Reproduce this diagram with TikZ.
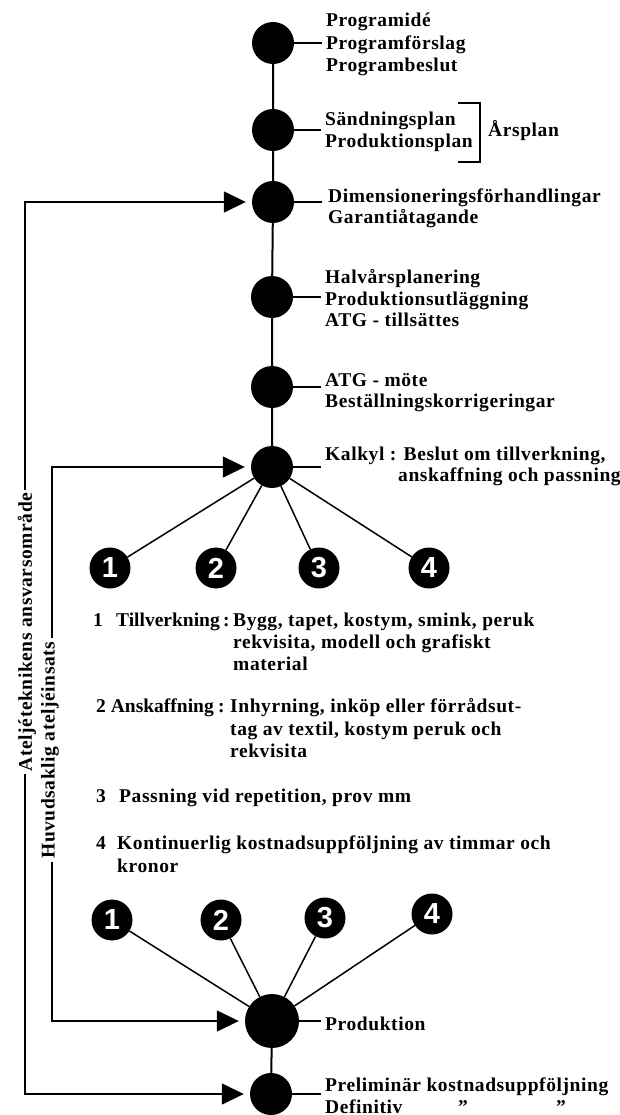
\documentclass[tikz,border=0pt]{standalone}
\usepackage{fontspec}
\setmainfont{Liberation Serif}[LetterSpace=3]
\newfontfamily\numfont{Liberation Sans}
\usetikzlibrary{arrows.meta,calc}
\begin{document}
\begin{tikzpicture}[x=1pt,y=-1pt,
  every node/.style={font=\bfseries\fontsize{19.5}{22}\selectfont, inner sep=0pt},
  dot/.style={circle, fill=black, minimum size=42pt, inner sep=0pt},
  num/.style={circle, fill=black, minimum size=41pt, inner sep=0pt, text=white,
              font=\numfont\bfseries\fontsize{29}{29}\selectfont},
  lbl/.style={anchor=base west},
  lble/.style={anchor=base east, font=\bfseries\fontsize{19.5}{22}\selectfont\addfontfeature{LetterSpace=0}},
  spine/.style={line width=2pt},
  ray/.style={line width=1.5pt},
  tick/.style={line width=1.5pt},
  sideline/.style={line width=1.5pt, line cap=rect},
  arr/.style={line width=1.5pt, -{Triangle[length=22pt,width=21pt]}, shorten >=6pt},
  side/.style={rotate=90, fill=white, inner xsep=3pt}
]
\useasboundingbox (0,0) rectangle (620,1115);

% spine circles
\node[dot] (c1) at (273,43) {};
\node[dot] (c2) at (273,130) {};
\node[dot] (c3) at (273,202) {};
\node[dot] (c4) at (272,297) {};
\node[dot] (c5) at (272,387) {};
\node[dot] (c6) at (272,467) {};
\draw[spine] (c1) -- (c2) -- (c3) -- (c4) -- (c5) -- (c6);

% texts along spine
\node[lbl] (t1a) at (326,27) {Programidé};
\node[lbl] (t1b) at (326,50) {Programförslag};
\node[lbl] (t1c) at (326,72) {Programbeslut};
\draw[tick] (c1.east) -- ($(c1.east -| t1b.west)+(-4,0)$);

\node[lbl] (t2a) at (325,126) {Sändningsplan};
\node[lbl] (t2b) at (325,148) {Produktionsplan};
\draw[tick] (c2.east) -- ($(c2.east -| t2a.west)+(-4,0)$);
\draw[tick] (458,103) -- (480,103) -- (480,162) -- (458,162);
\node[lbl] (ars) at (488,137) {Årsplan};

\node[lbl] (t3a) at (328,203) {Dimensioneringsförhandlingar};
\node[lbl] (t3b) at (328,224) {Garantiåtagande};
\draw[tick] (c3.east) -- ($(c3.east -| t3a.west)+(-6,0)$);

\node[lbl] (t4a) at (325,283) {Halvårsplanering};
\node[lbl] (t4b) at (325,305) {Produktionsutläggning};
\node[lbl] (t4c) at (325,326) {ATG - tillsättes};
\draw[tick] (c4.east) -- ($(c4.east -| t4b.west)+(-4,0)$);

\node[lbl] (t5a) at (325,386) {ATG - möte};
\node[lbl] (t5b) at (325,407) {Beställningskorrigeringar};
\draw[tick] (c5.east) -- ($(c5.east -| t5a.west)+(-4,0)$);

\node[lbl] (k1) at (325,460) {Kalkyl : Beslut om tillverkning,};
\node[lbl] (k2) at (398,481) {anskaffning och passning};
\draw[tick] (c6.east) -- ($(c6.east -| k1.west)+(-4,0)$);

% first star
\node[num] (a1) at (110,568) {1};
\node[num] (a2) at (216,568) {2};
\node[num] (a3) at (319,568) {3};
\node[num] (a4) at (429,568) {4};
\draw[ray] (c6) -- (a1);
\draw[ray] (c6) -- (a2);
\draw[ray] (c6) -- (a3);
\draw[ray] (c6) -- (a4);

% list
\node[lbl] (n1) at (93,626) {1};
\node[lble] (l1) at (220,626) {Tillverkning};
\node[lbl] (s1) at (223,626) {:};
\node[lbl] (d1a) at (233,626) {Bygg, tapet, kostym, smink, peruk};
\node[lbl] (d1b) at (233,648) {rekvisita, modell och grafiskt};
\node[lbl] (d1c) at (233,670) {material};

\node[lbl] (n2) at (96,712) {2};
\node[lble] (l2) at (214,712) {Anskaffning};
\node[lbl] (s2) at (218,712) {:};
\node[lbl] (d2a) at (230,712) {Inhyrning, inköp eller förrådsut-};
\node[lbl] (d2b) at (230,735) {tag av textil, kostym peruk och};
\node[lbl] (d2c) at (230,757) {rekvisita};

\node[lbl] (n3) at (96,802) {3};
\node[lbl] (l3) at (119,802) {Passning vid repetition, prov mm};

\node[lbl] (n4) at (96,849) {4};
\node[lbl] (l4a) at (117,849) {Kontinuerlig kostnadsuppföljning av timmar och};
\node[lbl] (l4b) at (117,872) {kronor};

% second star
\node[num] (b1) at (112,920) {1};
\node[num] (b2) at (221,920) {2};
\node[num] (b3) at (325,918) {3};
\node[num] (b4) at (432,914) {4};
\node[dot, minimum size=54pt] (p) at (272,1021) {};
\node[dot] (q) at (271,1094) {};
\draw[ray] (p) -- (b1);
\draw[ray] (p) -- (b2);
\draw[ray] (p) -- (b3);
\draw[ray] (p) -- (b4);
\draw[spine] (p) -- (q);

\node[lbl] (pr) at (325,1030) {Produktion};
\draw[tick] (p.east) -- ($(p.east -| pr.west)+(-4,0)$);
\node[lbl] (f1) at (325,1091) {Preliminär kostnadsuppföljning};
\node[lbl] (f2) at (325,1113) {Definitiv};
\node[lbl] (f3) at (458,1113) {''};
\node[lbl] (f4) at (556,1113) {''};
\draw[tick] (q.east) -- ($(q.east -| f1.west)+(-4,0)$);

% side feedback lines
\coordinate (ox) at (25,0);
\coordinate (ix) at (52,0);
\draw[sideline] (ox |- c3) -- (ox |- q);
\draw[arr] (ox |- c3) -- (c3);
\draw[arr] (ox |- q) -- (q);
\draw[sideline] (ix |- c6) -- (ix |- p);
\draw[arr] (ix |- c6) -- (c6);
\draw[arr] (ix |- p) -- (p);
\node[side] (sa) at (27,632) {Ateljéteknikens ansvarsområde};
\node[side] (sb) at (50,750) {Huvudsaklig ateljéinsats};
\end{tikzpicture}
\end{document}
